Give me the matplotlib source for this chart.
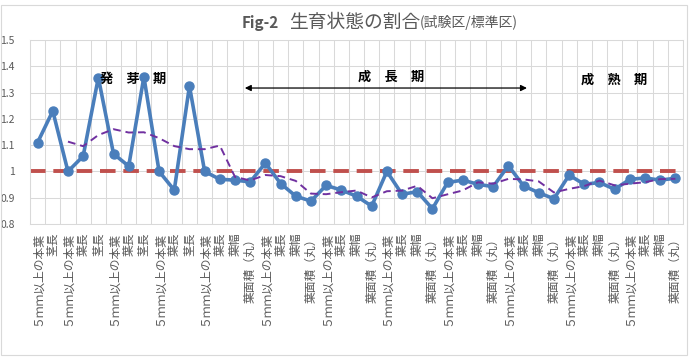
import numpy as np
import pandas as pd
import matplotlib
matplotlib.use('Agg')
import matplotlib.pyplot as plt
from matplotlib.patches import Rectangle

plt.rcParams['font.family'] = ['Noto Sans CJK JP', 'DejaVu Sans']

# category labels (x axis)
honba = '５ｍｍ以上の本葉'
kei = '茎長'
yocho = '葉長'
yofuku = '葉幅'
menseki = '葉面積（丸）'
labels = [honba, kei, honba, yocho, kei, honba, yocho, kei, honba, yocho, kei,
          honba, yocho, yofuku, menseki,
          honba, yocho, yofuku, menseki,
          honba, yocho, yofuku, menseki,
          honba, yocho, yofuku, menseki,
          honba, yocho, yofuku, menseki,
          honba, yocho, yofuku, menseki,
          honba, yocho, yofuku, menseki,
          honba, yocho, yofuku, menseki]

# ratio test plot / standard plot
ratio = [1.11, 1.23, 1.00, 1.058, 1.357, 1.067, 1.02, 1.36, 1.00, 0.929, 1.325,
         1.00, 0.97, 0.967, 0.96, 1.032, 0.954, 0.906, 0.887, 0.947, 0.929,
         0.906, 0.868, 1.00, 0.913, 0.923, 0.858, 0.958, 0.967, 0.951, 0.942,
         1.022, 0.945, 0.919, 0.896, 0.986, 0.951, 0.958, 0.932, 0.97, 0.975,
         0.967, 0.974]
baseline = 1.0
ma_period = 3

x = np.arange(len(ratio))
moving_avg = pd.Series(ratio).rolling(ma_period).mean()

fig = plt.figure(figsize=(6.9, 3.6), dpi=100)
ax = fig.add_axes([30 / 690, 1 - 224 / 360, 653 / 690, 184 / 360])

# chart border
fig.patches.append(Rectangle((1 / 690, 5 / 360), 686 / 690, 350 / 360, transform=fig.transFigure,
                             fill=False, edgecolor='#D9D9D9', linewidth=0.8))

# grid lines
ax.set_xlim(-0.5, len(ratio) - 0.5)
ax.set_ylim(0.8, 1.5)
ax.set_yticks(np.arange(0.8, 1.51, 0.1))
ax.set_yticklabels(['0.8', '0.9', '1', '1.1', '1.2', '1.3', '1.4', '1.5'])
ax.set_xticks(x)
ax.set_xticklabels(labels, rotation=90, va='top', ha='center')
ax.set_xticks(np.arange(-0.5, len(ratio), 1), minor=True)
ax.grid(which='minor', axis='x', color='#D9D9D9', linewidth=0.75)
ax.grid(which='major', axis='y', color='#D9D9D9', linewidth=0.75)
ax.tick_params(which='both', length=0)
ax.tick_params(axis='x', labelsize=8.5, colors='#595959', pad=6)
ax.tick_params(axis='y', labelsize=7.5, colors='#595959', pad=11)
for s in ax.spines.values():
    s.set_color('#D9D9D9')
    s.set_linewidth(0.75)
ax.set_axisbelow(True)

# data
ax.axhline(baseline, color='#C0504D', linewidth=2.8, dashes=(4, 2), zorder=2)
ax.plot(x, ratio, color='#4A7EBB', linewidth=2.6, marker='o', markersize=6.5, zorder=3)
ax.plot(x, moving_avg, color='#7030A0', linewidth=1.4, dashes=(4, 2.5), zorder=4)

# title
fig.text(242 / 690, 1 - 23 / 360, 'Fig-2', fontsize=11, fontweight='bold', color='#595959',
         va='center', ha='left')
fig.text(289 / 690, 1 - 22 / 360, '生育状態の割合', fontsize=13.5, color='#595959',
         va='center', ha='left')
fig.text(420 / 690, 1 - 23 / 360, '(試験区/標準区)', fontsize=10, color='#595959',
         va='center', ha='left')

# growth stage annotations
ax.text(0.158, 0.79, '発　芽　期', transform=ax.transAxes, fontsize=9.5, fontweight='bold',
        ha='center', va='center', color='black')
ax.text(0.553, 0.80, '成　長　期', transform=ax.transAxes, fontsize=9.5, fontweight='bold',
        ha='center', va='center', color='black')
ax.text(0.894, 0.785, '成　熟　期', transform=ax.transAxes, fontsize=9.5, fontweight='bold',
        ha='center', va='center', color='black')
ax.annotate('', xy=(0.329, 0.739), xytext=(0.761, 0.739), xycoords='axes fraction',
            arrowprops=dict(arrowstyle='<|-|>', color='black', linewidth=0.9,
                            mutation_scale=9, shrinkA=0, shrinkB=0))

fig.savefig('out.png', dpi=100)
